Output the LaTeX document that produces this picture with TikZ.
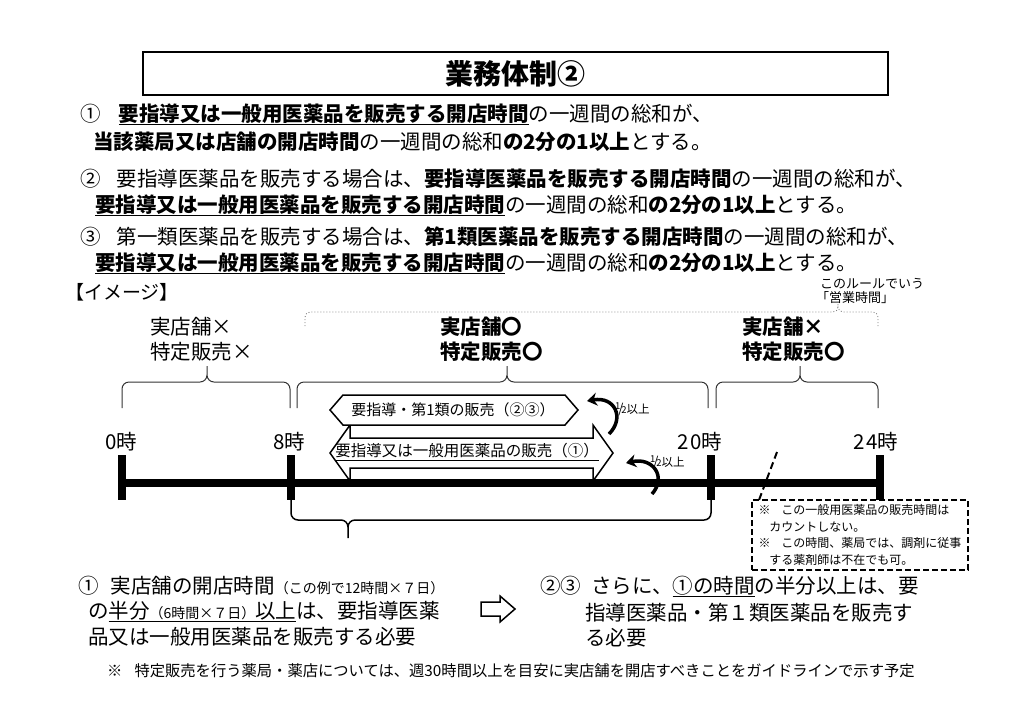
\documentclass[tikz,border=0pt]{standalone}
\usepackage{fontspec}
\setmainfont{Noto Sans CJK JP}
\usepackage{tikz}
\usetikzlibrary{arrows.meta, positioning, calc}
\newcommand{\fsz}[1]{\fontsize{#1}{#1}\selectfont}
\newcommand{\ulbf}[1]{\underline{\textbf{#1}}}
\newcommand{\halfmark}{\raisebox{4pt}{\fsz{9.5}1}\kern-2pt{\fsz{13}/}\kern-2pt{\fsz{9.5}2}}
\tikzset{every node/.style={inner sep=0pt, outer sep=0pt},
  bodytxt/.style={anchor=base west, font=\fsz{20.5}},
  smalltxt/.style={anchor=base west, font=\fsz{13}},
  hourlbl/.style={anchor=base, font=\fsz{20.5}},
  tickbar/.style={line width=8pt},
  bracepath/.style={rounded corners=7pt, line width=1pt, black!80},
  halfarrow/.style={line width=3.5pt, -{Stealth[length=10pt, width=13pt]}},
  halflbl/.style={anchor=west, font=\fsz{11.5}},
  blockshape/.style={line width=1.5pt, fill=white}}

\begin{document}
\begin{tikzpicture}[x=1pt, y=-1pt]
    \useasboundingbox (0,0) rectangle (1024,724);
    \node[draw, line width=2pt, minimum width=745pt, minimum height=43pt, font=\fsz{28}\bfseries] (title) at (515.5,73.5) {業務体制②};

    \node[bodytxt] (rule1a) at (80,121) {①\hspace{.9em}\ulbf{要指導又は一般用医薬品を販売する開店時間}の一週間の総和が、};
    \node[bodytxt] (rule1b) at (93,149) {\textbf{当該薬局又は店舗の開店時間}の一週間の総和\textbf{の2分の1以上}とする。};
    \node[bodytxt] (rule2a) at (80,186) {②\hspace{.8em}要指導医薬品を販売する場合は、\textbf{要指導医薬品を販売する開店時間}の一週間の総和が、};
    \node[bodytxt] (rule2b) at (95,212) {\ulbf{要指導又は一般用医薬品を販売する開店時間}の一週間の総和\textbf{の2分の1以上}とする。};
    \node[bodytxt] (rule3a) at (80,244) {③\hspace{.8em}第一類医薬品を販売する場合は、\textbf{第1類医薬品を販売する開店時間}の一週間の総和が、};
    \node[bodytxt] (rule3b) at (95,270) {\ulbf{要指導又は一般用医薬品を販売する開店時間}の一週間の総和\textbf{の2分の1以上}とする。};

    \node[bodytxt, font=\fsz{19}] (image) at (65,299) {【イメージ】};
    \node[smalltxt] (rulename1) at (820,288) {このルールでいう};
    \node[smalltxt] (rulename2) at (816,302) {「営業時間」};

    \node[bodytxt] (closed1) at (150,334) {実店舗×};
    \node[bodytxt] (closed2) at (150,359) {特定販売×};
    \node[bodytxt, font=\fsz{20.5}\bfseries] (open1) at (440,334) {実店舗〇};
    \node[bodytxt, font=\fsz{20.5}\bfseries] (open2) at (440,359) {特定販売〇};
    \node[bodytxt, font=\fsz{20.5}\bfseries] (night1) at (742,334) {実店舗×};
    \node[bodytxt, font=\fsz{20.5}\bfseries] (night2) at (742,359) {特定販売〇};

    \draw[bracepath, dotted, gray, line width=0.8pt, rounded corners=5pt] (305,326) |- (838,312) -- (838,304) (878,326) |- (838,312) -- (838,304);
    \draw[bracepath] (122,408) |- (207,382) -- (207,366) (290,408) |- (207,382) -- (207,366);
    \draw[bracepath] (297,408) |- (507,382) -- (507,366) (708,408) |- (507,382) -- (507,366);
    \draw[bracepath] (716,408) |- (800,382) -- (800,366) (878,408) |- (800,382) -- (800,366);

    \coordinate (t0) at (122,483);
    \coordinate (t8) at (291,483);
    \coordinate (t20) at (711,483);
    \coordinate (t24) at (880,483);
    \draw[line width=8pt] (t0) -- (t24);
    \draw[tickbar] ($(t0)+(0,-28)$) -- ($(t0)+(0,17)$);
    \draw[tickbar] ($(t8)+(0,-28)$) -- ($(t8)+(0,17)$);
    \draw[tickbar] ($(t20)+(0,-28)$) -- ($(t20)+(0,17)$);
    \draw[tickbar] ($(t24)+(0,-28)$) -- ($(t24)+(0,17)$);
    \node[hourlbl] (h0) at (121,449) {0時};
    \node[hourlbl] (h8) at (289,449) {8時};
    \node[hourlbl] (h20) at (700,449) {2\kern1.5pt0時};
    \node[hourlbl] (h24) at (876,449) {2\kern1.5pt4時};

    \draw[rounded corners=7pt, line width=1.5pt] (291,500) |- (348,520) -- (348,538) (711,500) |- (348,520) -- (348,538);

    \draw[blockshape] (330,453) -- (350,425) -- (350,438) -- (593,438) -- (593,425) -- (613,453) -- (593,481) -- (593,468) -- (350,468) -- (350,481) -- cycle;
    \node[font=\fsz{15.5}] (allsale) at (467,452) {\underline{要指導又は一般用医薬品の販売（①）}};
    \draw[blockshape] (330,410) -- (343,395) -- (565,395) -- (578,410) -- (565,425) -- (343,425) -- cycle;
    \node[font=\fsz{15}] (firstsale) at (453,410) {要指導・第1類の販売（②③）};

    \coordinate (up1) at (609,434);
    \coordinate (up2) at (587,401);
    \draw[halfarrow] (up1) .. controls (625,418) and (615,396) .. (up2);
    \node[halflbl] (half1) at (615,409) {\halfmark 以上};
    \coordinate (low1) at (652,494);
    \coordinate (low2) at (626,463);
    \draw[halfarrow] (low1) .. controls (667,477) and (653,457) .. (low2);
    \node[halflbl] (half2) at (650,462) {\halfmark 以上};

    \draw[line width=2pt, dash pattern=on 7pt off 4pt] (777,452) -- (759,500);
    \node[draw, line width=2pt, dash pattern=on 6pt off 3pt, anchor=north west, inner xsep=5pt, inner ysep=3pt, minimum width=216pt, minimum height=70pt, font=\fontsize{12}{16.4}\selectfont, align=left] (note) at (752,500) {※\hspace{.9em}この一般用医薬品の販売時間は\\\hspace{.9em}カウントしない。\\※\hspace{.9em}この時間、薬局では、調剤に従事\\\hspace{.9em}する薬剤師は不在でも可。};

    \node[bodytxt] (need1) at (78,593) {①\hspace{.6em}実店舗の開店時間{\fsz{14}（この例で12時間×７日）}};
    \node[bodytxt] (need2) at (88,618) {の\underline{半分{\fsz{14}（6時間×７日）}以上}は、要指導医薬};
    \node[bodytxt] (need3) at (88,644) {品又は一般用医薬品を販売する必要};
    \draw[line width=1.5pt] (481,602) -- (500,602) -- (500,596) -- (515,609) -- (500,622) -- (500,616) -- (481,616) -- cycle;
    \node[bodytxt] (more1) at (540,593) {②③\hspace{.5em}さらに、\underline{①の時間}の半分以上は、要};
    \node[bodytxt] (more2) at (585,620) {指導医薬品・第１類医薬品を販売す};
    \node[bodytxt] (more3) at (585,645) {る必要};

    \node[bodytxt, font=\fsz{15.3}] (footer) at (107,676) {※\hspace{.8em}特定販売を行う薬局・薬店については、週30時間以上を目安に実店舗を開店すべきことをガイドラインで示す予定};
  \end{tikzpicture}
\end{document}
